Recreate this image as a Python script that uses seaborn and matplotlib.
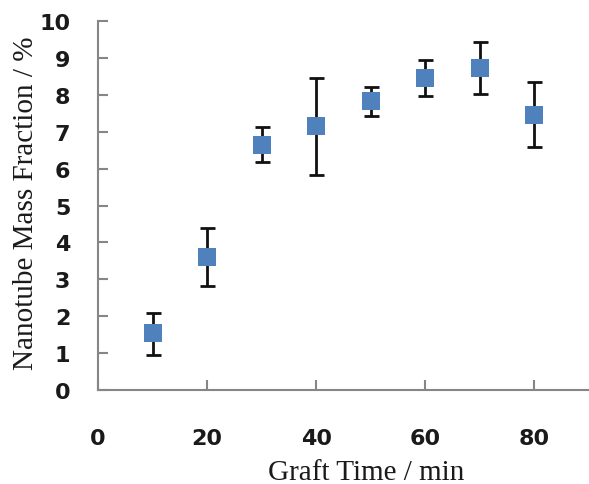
import matplotlib
matplotlib.use("Agg")
import matplotlib.pyplot as plt
import seaborn as sns
import numpy as np
import pandas as pd

# valores
graft_time = [10, 20, 30, 40, 50, 60, 70, 80]
mass_fraction = [1.55, 3.61, 6.65, 7.15, 7.84, 8.45, 8.73, 7.45]
err_low = [0.95, 2.81, 6.17, 5.84, 7.42, 7.98, 8.03, 6.58]
err_high = [2.08, 4.40, 7.12, 8.46, 8.20, 8.94, 9.44, 8.34]
x_ticks = [0, 20, 40, 60, 80]
y_ticks = list(range(0, 11))


def plot_mass_fraction():
    df = pd.DataFrame({"t": graft_time, "m": mass_fraction,
                       "lo": err_low, "hi": err_high})

    sns.set_style("white")
    fig = plt.figure(figsize=(5.89, 4.85), dpi=100)
    ax = fig.add_axes([0.1664, 0.1938, 0.8336, 0.7608])

    yerr = np.array([df["m"] - df["lo"], df["hi"] - df["m"]])
    ax.errorbar(df["t"], df["m"], yerr=yerr, fmt="none", ecolor="#111111",
                elinewidth=2.0, capsize=5.4, capthick=2.0, zorder=2)
    sns.scatterplot(data=df, x="t", y="m", marker="s", s=150, color="#4F81BD",
                    edgecolor="#4F81BD", linewidth=0, ax=ax, zorder=3)

    ax.set_xlim(0, 90)
    ax.set_ylim(0, 10)
    ax.set_xticks(x_ticks)
    ax.set_yticks(y_ticks)

    for s in ["top", "right"]:
        ax.spines[s].set_visible(False)
    for s in ["left", "bottom"]:
        ax.spines[s].set_color("#868686")
        ax.spines[s].set_linewidth(1.5)

    ax.tick_params(axis="both", direction="in", length=7, width=1.5,
                   bottom=True, left=True,
                   color="#868686", labelsize=16, labelcolor="#1a1a1a")
    ax.tick_params(axis="x", pad=27)
    ax.tick_params(axis="y", pad=20)
    for lbl in ax.get_xticklabels() + ax.get_yticklabels():
        lbl.set_fontweight("bold")

    serif = {"family": "Liberation Serif", "size": 21, "color": "#1a1a1a"}
    ax.set_xlabel("Graft Time / min", fontdict=serif)
    ax.set_ylabel("Nanotube Mass Fraction / %", fontdict=serif)
    ax.xaxis.set_label_coords(0.546, -0.188)
    ax.yaxis.set_label_coords(-0.12, 0.51)

    plt.savefig("out.png", dpi=100)


if __name__ == '__main__':
    plot_mass_fraction()
